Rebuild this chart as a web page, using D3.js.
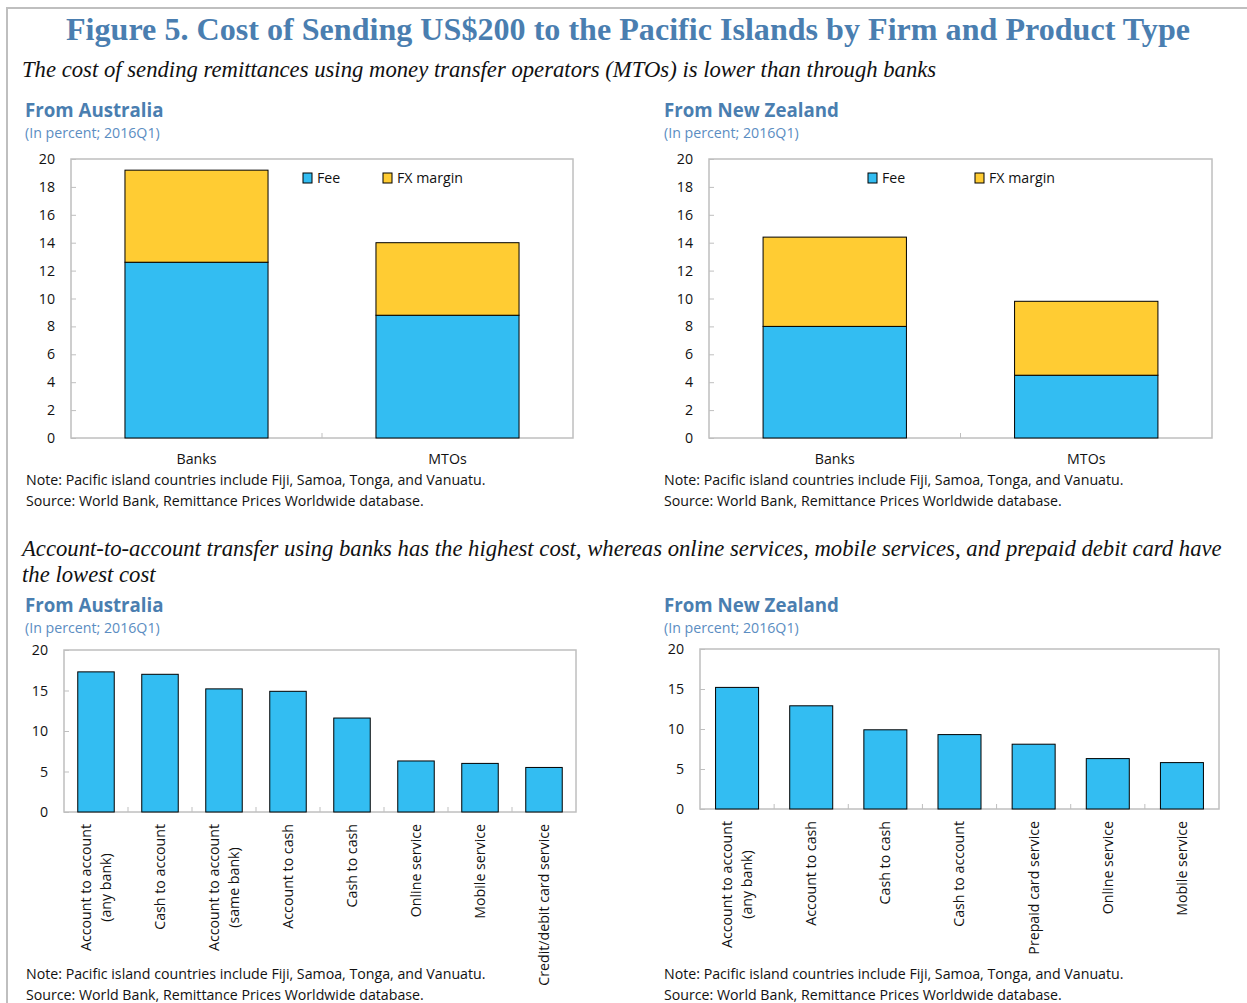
<!DOCTYPE html>
<html>
<head>
<meta charset="utf-8">
<script src="https://cdn.jsdelivr.net/npm/d3@7"></script>
<style>
  body { margin: 0; background: #fff; }
</style>
</head>
<body>
<div id="container"></div>
<script>
// Chart size
const width = 1247;
const height = 1003;

const sans = "'Open Sans', 'Noto Sans', sans-serif";
const serif = "'Liberation Serif', 'Times New Roman', serif";
const blue = "#33bdf2";
const yellow = "#ffcc33";
const titleBlue = "#4a7eb0";
const frameGrey = "#bfbfbf";

// Data: top panels (stacked)
const stackKeys = ["Fee", "FX margin"];
const firmTypes = ["Banks", "MTOs"];
const auFee = [12.6, 8.8];
const auFx = [6.6, 5.2];
const nzFee = [8.0, 4.5];
const nzFx = [6.4, 5.3];
const stackTicks = [0, 2, 4, 6, 8, 10, 12, 14, 16, 18, 20];

// Data: bottom panels (by product)
const auProducts = ["Account to account\n(any bank)", "Cash to account", "Account to account\n(same bank)",
  "Account to cash", "Cash to cash", "Online service", "Mobile service", "Credit/debit card service"];
const auCost = [17.3, 17.0, 15.2, 14.9, 11.6, 6.3, 6.0, 5.5];
const nzProducts = ["Account to account\n(any bank)", "Account to cash", "Cash to cash", "Cash to account",
  "Prepaid card service", "Online service", "Mobile service"];
const nzCost = [15.2, 12.9, 9.9, 9.3, 8.1, 6.3, 5.8];
const productTicks = [0, 5, 10, 15, 20];

// Texts
const figTitle = "Figure 5. Cost of Sending US$200 to the Pacific Islands by Firm and Product Type";
const lead1 = ["The cost of sending remittances using money transfer operators (MTOs) is lower than through banks"];
const lead2 = ["Account-to-account transfer using banks has the highest cost, whereas online services, mobile services, and prepaid debit card have",
  "the lowest cost"];
const unitText = "(In percent; 2016Q1)";
const noteText = "Note: Pacific island countries include Fiji, Samoa, Tonga, and Vanuatu.";
const sourceText = "Source: World Bank, Remittance Prices Worldwide database.";

const svg = d3.select("#container")
  .append("svg")
  .attr("width", width)
  .attr("height", height)
  .style("font-family", sans);

// outer frame (top and left edge only visible)
svg.append("path")
  .attr("d", `M7,${height} V8 H${width}`)
  .attr("fill", "none")
  .attr("stroke", frameGrey)
  .attr("stroke-width", 2);

svg.append("text")
  .attr("x", 66).attr("y", 40)
  .attr("textLength", 1124)
  .attr("lengthAdjust", "spacingAndGlyphs")
  .style("font-family", serif)
  .style("font-weight", "bold")
  .style("font-size", "31px")
  .attr("fill", titleBlue)
  .text(figTitle);

function lead(lines, x, y0) {
  svg.append("g").selectAll("text")
    .data(lines)
    .join("text")
    .attr("x", x)
    .attr("y", (d, i) => y0 + i * 26)
    .style("font-family", serif)
    .style("font-style", "italic")
    .style("font-size", "22.7px")
    .attr("fill", "#111")
    .text(d => d);
}
lead(lead1, 22, 77);
lead(lead2, 22, 556);

function heading(x, y, title) {
  svg.append("text")
    .attr("x", x).attr("y", y)
    .style("font-weight", "bold")
    .style("font-size", "18.7px")
    .attr("fill", titleBlue)
    .text(title);
  svg.append("text")
    .attr("x", x).attr("y", y + 21)
    .style("font-size", "14.2px")
    .attr("fill", "#5b8dc2")
    .text(unitText);
}

function notes(x, y) {
  svg.append("g").selectAll("text")
    .data([noteText, sourceText])
    .join("text")
    .attr("x", x)
    .attr("y", (d, i) => y + i * 21)
    .style("font-size", "14.2px")
    .attr("fill", "#111")
    .text(d => d);
}

function plotFrame(p) {
  svg.append("rect")
    .attr("x", p.left).attr("y", p.top)
    .attr("width", p.right - p.left).attr("height", p.bottom - p.top)
    .attr("fill", "none")
    .attr("stroke", frameGrey)
    .attr("stroke-width", 1.5);
}

function yAxis(p, y, ticks) {
  // labels
  svg.append("g")
    .attr("transform", `translate(${p.left},0)`)
    .call(d3.axisLeft(y).tickValues(ticks).tickSize(0).tickPadding(16))
    .call(g => g.select(".domain").remove())
    .call(g => g.selectAll("text").style("font-family", sans).style("font-size", "14.2px").attr("fill", "#111"));
  // small inward ticks
  svg.append("g")
    .attr("transform", `translate(${p.left},0)`)
    .call(d3.axisRight(y).tickValues(ticks).tickSize(5).tickFormat(""))
    .call(g => g.select(".domain").remove())
    .call(g => g.selectAll("line").attr("stroke", frameGrey));
}

function categoryTicks(p, x) {
  svg.append("g").selectAll("line")
    .data(x.domain().slice(1))
    .join("line")
    .attr("x1", d => x(d) - x.step() * x.paddingInner() / 2)
    .attr("x2", d => x(d) - x.step() * x.paddingInner() / 2)
    .attr("y1", p.bottom)
    .attr("y2", p.bottom - 5)
    .attr("stroke", frameGrey);
}

function stackedPanel(p, fee, fx, legendX) {
  const x = d3.scaleBand().domain(firmTypes).range([p.left, p.right]).paddingInner(0.43).paddingOuter(0.215);
  const y = d3.scaleLinear().domain([0, 20]).range([p.bottom, p.top]);
  const rows = firmTypes.map((f, i) => ({ firm: f, "Fee": fee[i], "FX margin": fx[i] }));
  const series = d3.stack().keys(stackKeys)(rows);
  const color = d3.scaleOrdinal().domain(stackKeys).range([blue, yellow]);

  plotFrame(p);
  categoryTicks(p, x);
  yAxis(p, y, stackTicks);

  svg.append("g").selectAll("g")
    .data(series)
    .join("g")
    .attr("fill", d => color(d.key))
    .selectAll("rect")
    .data(d => d)
    .join("rect")
    .attr("x", d => x(d.data.firm))
    .attr("y", d => y(d[1]))
    .attr("width", x.bandwidth())
    .attr("height", d => y(d[0]) - y(d[1]))
    .attr("stroke", "#000")
    .attr("stroke-width", 1);

  // category labels
  svg.append("g")
    .attr("transform", `translate(0,${p.bottom})`)
    .call(d3.axisBottom(x).tickSize(0).tickPadding(16))
    .call(g => g.select(".domain").remove())
    .call(g => g.selectAll("text").style("font-family", sans).style("font-size", "14.2px").attr("fill", "#111"));

  // legend
  const lg = svg.append("g").selectAll("g")
    .data(stackKeys)
    .join("g")
    .attr("transform", (d, i) => `translate(${legendX[i]},${p.top + 14})`);
  lg.append("rect")
    .attr("width", 9).attr("height", 10)
    .attr("fill", d => color(d))
    .attr("stroke", "#000")
    .attr("stroke-width", 1);
  lg.append("text")
    .attr("x", 14).attr("y", 5)
    .attr("dy", "0.35em")
    .style("font-size", "14.2px")
    .attr("fill", "#111")
    .text(d => d);
}

function productPanel(p, products, cost, pad) {
  const x = d3.scaleBand().domain(products).range([p.left, p.right]).paddingInner(pad).paddingOuter(pad / 2);
  const y = d3.scaleLinear().domain([0, 20]).range([p.bottom, p.top]);

  plotFrame(p);
  categoryTicks(p, x);
  yAxis(p, y, productTicks);

  svg.append("g").selectAll("rect")
    .data(products)
    .join("rect")
    .attr("x", d => x(d))
    .attr("y", (d, i) => y(cost[i]))
    .attr("width", x.bandwidth())
    .attr("height", (d, i) => y(0) - y(cost[i]))
    .attr("fill", blue)
    .attr("stroke", "#000")
    .attr("stroke-width", 1);

  // rotated, multi-line labels, block ends at top, lines centred inside block
  const lineH = 20;
  svg.append("g").selectAll("text")
    .data(products)
    .join("text")
    .style("font-size", "14.2px")
    .attr("fill", "#111")
    .attr("text-anchor", "middle")
    .each(function (d) {
      const t = d3.select(this);
      const lines = d.split("\n");
      const tsp = t.selectAll("tspan")
        .data(lines)
        .join("tspan")
        .attr("x", 0)
        .attr("y", (l, i) => (i - (lines.length - 1) / 2) * lineH)
        .attr("dy", "0.35em")
        .text(l => l);
      let maxLen = 0;
      tsp.each(function () { maxLen = Math.max(maxLen, this.getComputedTextLength()); });
      const cx = x(d) + x.bandwidth() / 2;
      t.attr("transform", `translate(${cx},${p.bottom + 12 + maxLen / 2}) rotate(-90)`);
    });
}

// Top row
heading(25, 117, "From Australia");
stackedPanel({ left: 71, right: 573, top: 159, bottom: 438 }, auFee, auFx, [303, 383]);
notes(26, 485);

heading(664, 117, "From New Zealand");
stackedPanel({ left: 709, right: 1212, top: 159, bottom: 438 }, nzFee, nzFx, [868, 975]);
notes(664, 485);

// Bottom row
heading(25, 612, "From Australia");
productPanel({ left: 64, right: 576, top: 650, bottom: 812 }, auProducts, auCost, 0.43);
notes(26, 979);

heading(664, 612, "From New Zealand");
productPanel({ left: 700, right: 1219, top: 649, bottom: 809 }, nzProducts, nzCost, 0.42);
notes(664, 979);
</script>
</body>
</html>
